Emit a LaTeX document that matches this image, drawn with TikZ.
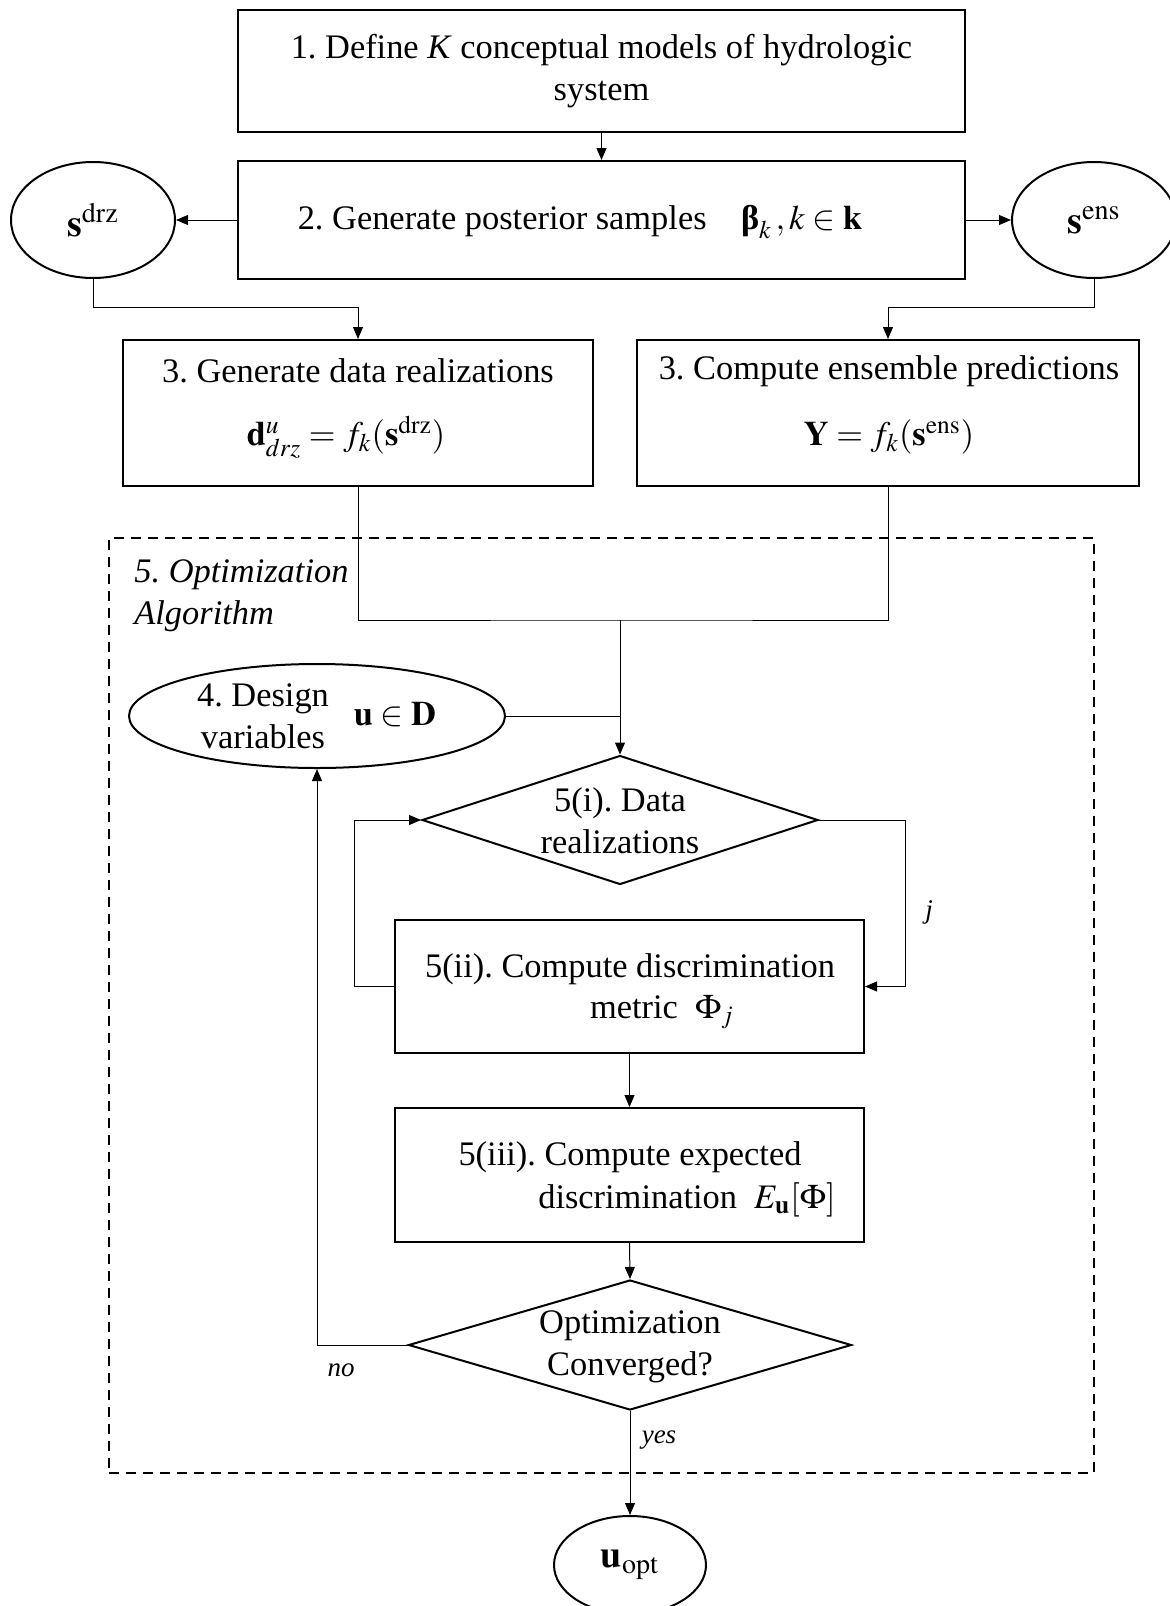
\documentclass[tikz,border=0pt]{standalone}
\usepackage{amsmath}
\usepackage{mathptmx}
\usepackage[no-math]{fontspec}
\setmainfont{Liberation Serif}
\usetikzlibrary{shapes.geometric,arrows.meta}
\frenchspacing
\begin{document}
\begin{tikzpicture}[x=0.5pt,y=-0.5pt,
  box/.style={draw,line width=1pt,inner sep=0pt,rectangle},
  oval/.style={draw,ellipse,line width=1pt,inner sep=0pt,font=\fontsize{19}{21}\selectfont},
  dia/.style={draw,diamond,line width=1pt,inner sep=0pt},
  conn/.style={line width=0.5pt},
  arr/.style={line width=0.5pt,-{Triangle[length=6pt,width=5pt]}},
  txt/.style={font=\fontsize{17.2}{21}\selectfont,inner sep=0pt,align=center},
  lab/.style={font=\fontsize{13.5}{16}\selectfont\itshape,inner sep=0pt},
  dbox/.style={draw,line width=0.8pt,dash pattern=on 5pt off 3.5pt,inner sep=0pt,rectangle}]
\useasboundingbox (0,0) rectangle (1170,1606);
% boxes
\node[box,minimum width=363.5pt,minimum height=61pt,txt] (b1) at (601.5,71)
  {1. Define \textit{K} conceptual models of hydrologic\\system};
\node[box,minimum width=363.5pt,minimum height=59pt] (b2) at (601.5,220) {};
\node[txt] (t2) at (580,222) {2. Generate posterior samples\quad $\text{\bfseries β}_{k}\,, k \in \mathbf{k}$};
\node[oval,minimum width=82pt,minimum height=58pt] (sdrz) at (93,220) {$\mathbf{s}^{\mathrm{drz}}$};
\node[oval,minimum width=82pt,minimum height=58pt] (sens) at (1094,220) {$\mathbf{s}^{\mathrm{ens}}$};
\node[box,minimum width=235pt,minimum height=73pt] (b3a) at (358,413) {};
\node[box,minimum width=251pt,minimum height=73pt] (b3b) at (888,413) {};
\node[txt] (t3a) at (358,371) {3. Generate data realizations};
\node[txt] (f3a) at (346,437) {$\mathbf{d}^{u}_{drz} = f_{k}(\mathbf{s}^{\mathrm{drz}})$};
\node[txt] (t3b) at (889,371) {3. Compute ensemble predictions};
\node[txt] (f3b) at (889,437) {$\mathbf{Y} = f_{k}(\mathbf{s}^{\mathrm{ens}})$};
% optimization region
\node[dbox,minimum width=492.5pt,minimum height=467.5pt] (opt) at (601.5,1005.5) {};
\node[txt,align=left,anchor=west,font=\fontsize{17.2}{21}\selectfont\itshape] (optl) at (134,596) {5. Optimization\\Algorithm};
\node[oval,minimum width=188pt,minimum height=52pt] (design) at (317,716) {};
\node[txt] (dt) at (263,716) {4. Design\\variables};
\node[txt] (du) at (395,715) {$\mathbf{u} \in \mathbf{D}$};
\node[dia,minimum width=198pt,minimum height=64.5pt] (d1) at (620,820) {};
\node[txt] (d1t) at (620,821) {5(i). Data\\realizations};
\node[box,minimum width=234.5pt,minimum height=66.5pt] (b5a) at (629.5,986.5) {};
\node[txt] (b5at) at (630,969) {5(ii). Compute discrimination};
\node[txt] (b5am) at (662,1012) {metric\ \ $\Phi_{j}$};
\node[box,minimum width=234.5pt,minimum height=67pt] (b5b) at (629.5,1175) {};
\node[txt] (b5bt) at (630,1157) {5(iii). Compute expected};
\node[txt] (b5bm) at (687,1200) {discrimination\ \ $E_{\mathbf{u}}[\Phi]$};
\node[dia,minimum width=221.5pt,minimum height=65pt] (d2) at (630,1345) {};
\node[txt] (d2t) at (630,1347) {Optimization\\Converged?};
\node[oval,minimum width=76pt,minimum height=49pt] (uopt) at (630,1565) {$\mathbf{u}_{\mathrm{opt}}$};
% labels
\node[lab] (lj) at (929,912) {j};
\node[lab] (lno) at (341,1370) {no};
\node[lab] (lyes) at (659,1440) {yes};
% coordinates
\coordinate (merge) at (620,620);
\coordinate (rl) at (905,0);
\coordinate (ll) at (354,0);
% connectors
\draw[arr] (b1.south) -- (b2.north);
\draw[arr] (b2.west) -- (sdrz.east);
\draw[arr] (b2.east) -- (sens.west);
\draw[arr] (sdrz.south) -- ++(0,28) -| (b3a.north);
\draw[arr] (sens.south) -- ++(0,28) -| (b3b.north);
\draw[conn] (b3a.south) |- (merge) -- (merge -| b3b.south) -- (b3b.south);
\draw[arr] (merge) -- (d1.north);
\draw[conn] (design.east) -- (design.east -| merge);
\draw[arr] (d1.east) -| (rl |- b5a.east) -- (b5a.east);
\draw[arr] (b5a.west) -| (ll |- d1.west) -- (d1.west);
\draw[arr] (b5a.south) -- (b5b.north);
\draw[arr] (b5b.south) -- (d2.north);
\draw[arr] (d2.west) -| (design.south);
\draw[arr] (d2.south) -- (uopt.north);
\end{tikzpicture}
\end{document}
